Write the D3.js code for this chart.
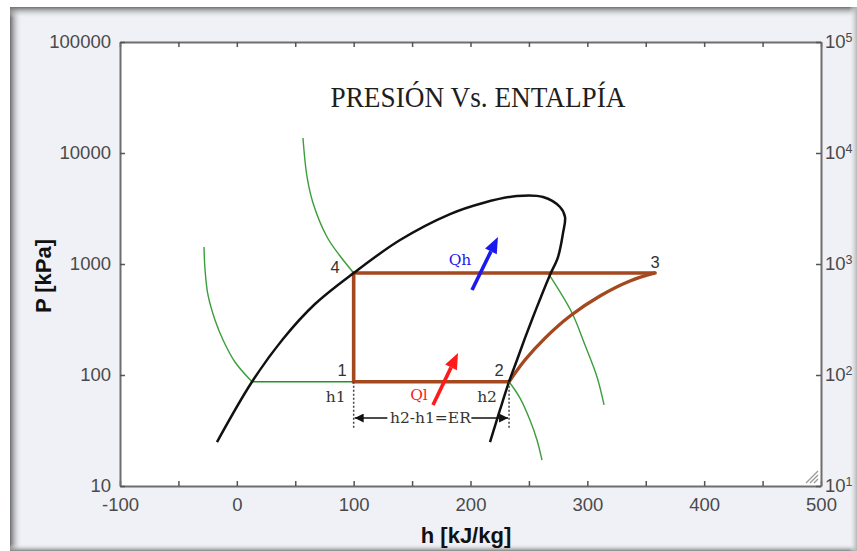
<!DOCTYPE html>
<html>
<head>
<meta charset="utf-8">
<script src="https://cdn.jsdelivr.net/npm/d3@7"></script>
<style>
  body { margin: 0; background: #fff; }
  svg { display: block; }
</style>
</head>
<body>
<div id="container"></div>
<script>
// saturation dome (kJ/kg , kPa)
const hDome = [-17, 13, 39.5, 66.9, 100, 139.7, 182.5, 210.7, 239.8, 262.1, 276.6, 280.9, 279.2, 274.9, 268, 260.3, 253.5, 246.6, 239.8, 233, 225.2, 216.7];
const pDome = [24.9, 87, 211, 436, 830, 1644, 2818, 3548, 4100, 4015, 3263, 2651, 1903, 1156, 796, 505, 333, 215, 136.5, 87, 48.4, 24.9];

// isotherms (green), liquid side and vapour side
const hIsoLowLiq = [-28.1, -27.2, -24.7, -18.7, -11.8, -1.6, 13];
const pIsoLowLiq = [1423, 883, 526, 313, 207, 131, 87];
const hIsoLowVap = [233, 242.4, 250.9, 256.9, 261.2];
const pIsoLowVap = [87, 62, 39.3, 26, 17.1];
const hIsoHighLiq = [56.6, 60.1, 65.2, 77.2, 87.7, 100];
const pIsoHighLiq = [13650, 6080, 3545, 1750, 1205, 830];
const hIsoHighVap = [266.3, 286.9, 298, 308.3, 314.3];
const pIsoHighVap = [830, 362, 186, 95.9, 53.7];

// refrigeration cycle: 3 -> 4 -> 1 -> 2, then compression 2 -> 3
const hCycle = [358, 100, 100, 233];
const pCycle = [830, 830, 87, 87];
const hComp = [233, 246.6, 263.8, 285.2, 310.8, 336.5, 358];
const pComp = [87, 136.5, 215, 340, 515, 703, 830];

const statePoints = ["1", "2", "3", "4"];
const hStateLabel = [90, 224.4, 358, 84];
const pStateLabel = [98, 98, 920, 830];

// heat arrows [h tail, h head], [P tail, P head]
const hArrowQh = [201.3, 223.5], pArrowQh = [583, 1750];
const hArrowQl = [167.9, 189.3], pArrowQl = [53.7, 158];

const xTicks = d3.range(-100, 501, 50);
const yTicks = [10, 100, 1000, 10000, 100000];

let w = 857;
let h = 551;
let mLeft = 120, mTop = 42, mRight = 821, mBottom = 486;

let svg = d3.select("#container")
  .append("svg")
    .attr("width", w)
    .attr("height", h)
;

// window frame
let defs = svg.append("defs");
function grad(id, x1, y1, x2, y2, c1, c2){
  let g = defs.append("linearGradient").attr("id", id)
    .attr("x1", x1).attr("y1", y1).attr("x2", x2).attr("y2", y2);
  g.append("stop").attr("offset", "0%").attr("stop-color", c1);
  g.append("stop").attr("offset", "100%").attr("stop-color", c2);
}
grad("gl", 0, 0, 1, 0, "#6a6a6a", "rgba(240,242,247,0)");
grad("gt", 0, 0, 0, 1, "#707070", "rgba(240,242,247,0)");
grad("gb", 0, 0, 0, 1, "rgba(240,242,247,0)", "#858585");
grad("gr", 0, 0, 1, 0, "rgba(240,242,247,0)", "#b5b5b5");

svg.append("rect").attr("x", 10).attr("y", 7).attr("width", 847).attr("height", 544).attr("fill", "#eff1f6");
svg.append("rect").attr("x", mLeft).attr("y", mTop).attr("width", mRight-mLeft).attr("height", mBottom-mTop).attr("fill", "#fff");

// frame shadows
svg.append("rect").attr("x", 10).attr("y", 7).attr("width", 12).attr("height", 544).attr("fill", "url(#gl)");
svg.append("rect").attr("x", 10).attr("y", 7).attr("width", 847).attr("height", 11).attr("fill", "url(#gt)");
svg.append("rect").attr("x", 10).attr("y", 544).attr("width", 847).attr("height", 7).attr("fill", "url(#gb)");
svg.append("rect").attr("x", 849).attr("y", 7).attr("width", 8).attr("height", 544).attr("fill", "url(#gr)");

let xScale = d3.scaleLinear().domain([-100, 500]).range([mLeft, mRight]);
let yScale = d3.scaleLog().domain([10, 100000]).range([mBottom, mTop]);

let line = d3.line().x(d => xScale(d[0])).y(d => yScale(d[1]));
let smooth = d3.line().x(d => xScale(d[0])).y(d => yScale(d[1])).curve(d3.curveCatmullRom.alpha(0.5));
let zip = (a, b) => a.map((v, i) => [v, b[i]]);

let plot = svg.append("g");

// isotherms
[[hIsoLowLiq, pIsoLowLiq], [hIsoLowVap, pIsoLowVap], [hIsoHighLiq, pIsoHighLiq], [hIsoHighVap, pIsoHighVap]].forEach(s => {
  plot.append("path").attr("d", smooth(zip(s[0], s[1])))
    .attr("fill", "none").attr("stroke", "#3a9e3a").attr("stroke-width", 1.4);
});
plot.append("path")
  .attr("d", line([[hIsoLowLiq[hIsoLowLiq.length-1], pIsoLowLiq[pIsoLowLiq.length-1]], [hIsoLowVap[0], pIsoLowVap[0]]]))
  .attr("stroke", "#259025").attr("stroke-width", 1.6);

// cycle
plot.append("path").attr("d", line(zip(hCycle, pCycle)))
  .attr("fill", "none").attr("stroke", "#a4481f").attr("stroke-width", 3.6).attr("stroke-linejoin", "miter");
plot.append("path").attr("d", smooth(zip(hComp, pComp)))
  .attr("fill", "none").attr("stroke", "#a4481f").attr("stroke-width", 3.4).attr("stroke-linecap", "round");

// dome
plot.append("path").attr("d", smooth(zip(hDome, pDome)))
  .attr("fill", "none").attr("stroke", "#111").attr("stroke-width", 2.5);

// dotted guides h1, h2
let yGuideEnd = 428;
[hCycle[2], hCycle[3]].forEach(v => {
  plot.append("line")
    .attr("x1", xScale(v)).attr("x2", xScale(v))
    .attr("y1", yScale(pCycle[2])).attr("y2", yGuideEnd)
    .attr("stroke", "#444").attr("stroke-width", 1.5).attr("stroke-dasharray", "2,2");
});

defs.append("marker").attr("id", "ah").attr("viewBox", "0 0 10 10")
  .attr("refX", 10).attr("refY", 5).attr("markerWidth", 11).attr("markerHeight", 9)
  .attr("markerUnits", "userSpaceOnUse").attr("orient", "auto-start-reverse")
  .append("path").attr("d", "M0,0L10,5L0,10z").attr("fill", "#111");

let yEr = 418;
let x1 = xScale(hCycle[2]), x2 = xScale(hCycle[3]), xm = (x1 + x2) / 2;
plot.append("line").attr("x1", x1 + 1).attr("x2", xm - 44).attr("y1", yEr).attr("y2", yEr)
  .attr("stroke", "#111").attr("stroke-width", 1.5).attr("marker-start", "url(#ah)");
plot.append("line").attr("x1", xm + 40).attr("x2", x2 - 1).attr("y1", yEr).attr("y2", yEr)
  .attr("stroke", "#111").attr("stroke-width", 1.5).attr("marker-end", "url(#ah)");

let serif = "'DejaVu Serif', serif";
plot.append("text").attr("x", xm - 1).attr("y", yEr + 5).attr("text-anchor", "middle")
  .attr("font-family", serif).attr("font-size", 15.5).attr("fill", "#333").text("h2-h1=ER");
plot.append("text").attr("x", xScale(hCycle[2]) - 18).attr("y", 402).attr("text-anchor", "middle")
  .attr("font-family", serif).attr("font-size", 15.5).attr("fill", "#333").text("h1");
plot.append("text").attr("x", xScale(hCycle[3]) - 22).attr("y", 402).attr("text-anchor", "middle")
  .attr("font-family", serif).attr("font-size", 15.5).attr("fill", "#333").text("h2");

// state numbers
statePoints.forEach((s, i) => {
  plot.append("text").attr("x", xScale(hStateLabel[i])).attr("y", yScale(pStateLabel[i]))
    .attr("text-anchor", "middle").attr("font-family", "'Liberation Sans', Arial, sans-serif")
    .attr("font-size", 16.5).attr("fill", "#333").text(s);
});

// heat arrows
function heatArrow(hs, ps, color, label, lx, ly){
  let xa = xScale(hs[0]), ya = yScale(ps[0]), xb = xScale(hs[1]), yb = yScale(ps[1]);
  let ang = Math.atan2(yb - ya, xb - xa);
  let L = 16, W = 6.5;
  let bx = xb - L * Math.cos(ang), by = yb - L * Math.sin(ang);
  plot.append("line").attr("x1", xa).attr("y1", ya).attr("x2", bx).attr("y2", by)
    .attr("stroke", color).attr("stroke-width", 3.6);
  let px = -Math.sin(ang), py = Math.cos(ang);
  plot.append("path")
    .attr("d", `M${xb},${yb}L${bx + W*px},${by + W*py}L${bx - W*px},${by - W*py}Z`)
    .attr("fill", color);
  plot.append("text").attr("x", lx).attr("y", ly).attr("text-anchor", "middle")
    .attr("font-family", serif).attr("font-size", 15.5).attr("fill", color).text(label);
}
heatArrow(hArrowQh, pArrowQh, "#1a1aee", "Qh", xScale(hArrowQh[0]) - 12, yScale(pArrowQh[0]) - 25);
heatArrow(hArrowQl, pArrowQl, "#ff1a1a", "Ql", xScale(hArrowQl[0]) - 14, yScale(pArrowQl[0]) - 5);

// axes
let sans = "'Liberation Sans', Arial, sans-serif";
function styleAxis(g){
  g.select(".domain").attr("stroke", "#6e6e6e").attr("stroke-width", 2);
  g.selectAll(".tick line").attr("stroke", "#555").attr("stroke-width", 1.5);
  g.selectAll("text").attr("font-family", sans).attr("font-size", 18.5).attr("fill", "#4a4a4a");
}

let xAxis = d3.axisBottom(xScale).tickValues(xTicks).tickSizeInner(-5).tickSizeOuter(0).tickPadding(12)
  .tickFormat(d => d % 100 === 0 ? String(d) : "");
let xAxisGroup = svg.append("g").attr("transform", "translate(0," + mBottom + ")").call(xAxis);
styleAxis(xAxisGroup);

let xTop = d3.axisTop(xScale).tickValues(xTicks).tickSizeInner(-5).tickSizeOuter(0).tickFormat("");
styleAxis(svg.append("g").attr("transform", "translate(0," + mTop + ")").call(xTop));

let yAxis = d3.axisLeft(yScale).tickValues(yTicks).tickSizeInner(-5).tickSizeOuter(0).tickPadding(9)
  .tickFormat(d3.format("d"));
let yAxisGroup = svg.append("g").attr("transform", "translate(" + mLeft + ",0)").call(yAxis);
styleAxis(yAxisGroup);

let yRight = d3.axisRight(yScale).tickValues(yTicks).tickSizeInner(-5).tickSizeOuter(0).tickPadding(4);
let yRightGroup = svg.append("g").attr("transform", "translate(" + mRight + ",0)").call(yRight);
styleAxis(yRightGroup);
yRightGroup.selectAll(".tick text").text(null).each(function(d){
  let t = d3.select(this);
  t.append("tspan").text("10");
  t.append("tspan").attr("dy", "-0.55em").attr("font-size", 12.5).text(Math.round(Math.log10(d)));
});

// resize grip
[[0, 12], [4, 8], [8, 4]].forEach(g => {
  svg.append("line").attr("x1", mRight - 3).attr("y1", mBottom - 3 - g[1]).attr("x2", mRight - 3 - g[1]).attr("y2", mBottom - 3)
    .attr("stroke", "#9a9a9a").attr("stroke-width", 1.2);
});

// title and axis labels
svg.append("text").attr("x", 478).attr("y", 107).attr("text-anchor", "middle")
  .attr("font-family", "'Liberation Serif', serif").attr("font-size", 29).attr("fill", "#1e1e1e")
  .attr("textLength", 295).attr("lengthAdjust", "spacingAndGlyphs")
  .text("PRESIÓN Vs. ENTALPÍA");

svg.append("text").attr("transform", "translate(51,276) rotate(-90)").attr("text-anchor", "middle")
  .attr("font-family", sans).attr("font-weight", "bold").attr("font-size", 22).attr("fill", "#111")
  .text("P [kPa]");
svg.append("text").attr("x", 466).attr("y", 543).attr("text-anchor", "middle")
  .attr("font-family", sans).attr("font-weight", "bold").attr("font-size", 22).attr("fill", "#111")
  .text("h [kJ/kg]");
</script>
</body>
</html>
